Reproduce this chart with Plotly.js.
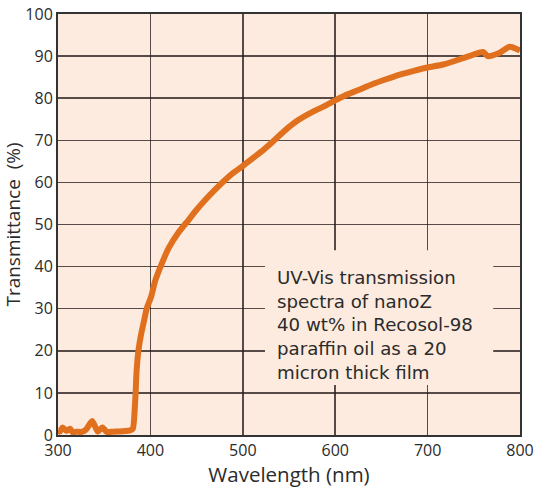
<!DOCTYPE html>
<html>
<head>
<meta charset="utf-8">
<script src="https://cdn.plot.ly/plotly-3.0.1.min.js"></script>
<style>html,body{margin:0;padding:0;background:#fff;}#chart{width:535px;height:488px;}</style>
</head>
<body>
<div id="chart"></div>
<script>
const wavelength = [300,302,305,309,313,316,320,325,330,337,343,348,353,360,370,378,381,383,384,385,387,390,393,396,401,405,411,420,430,441,450,460,470,482,490,500,510,520,533,547,560,576,590,600,610,626,640,655,670,685,700,717,730,745,760,765,778,789,800];
const transmittance = [1.2,0.8,1.8,1.0,1.5,0.6,0.8,0.7,1.2,3.3,0.8,1.8,0.7,0.8,0.9,1.1,1.5,6,10,15,20,24,27,30,33,36.5,40,44.5,48,51,53.5,56,58.3,60.8,62.3,63.9,65.6,67.3,69.8,72.6,74.8,76.8,78.3,79.5,80.6,82,83.3,84.5,85.6,86.5,87.3,88,88.9,90,91,90,90.8,92.2,91.3];
const xTicks = [300,400,500,600,700,800];
const yTicks = [0,10,20,30,40,50,60,70,80,90,100];
const noteLines = ["UV-Vis transmission", "spectra of nanoZ", "40 wt% in Recosol-98", "paraffin oil as a 20", "micron thick film"];
const noteLineY = [37.53, 31.83, 26.13, 20.43, 14.73];

const bg = 'rgb(252,235,222)';
const font = '"Open Sans", "DejaVu Sans", sans-serif';
const noteFont = '"DejaVu Sans", sans-serif';
const txt = '#2b2b2b';

const trace = {
  x: wavelength, y: transmittance, type: 'scatter', mode: 'lines',
  line: {color: 'rgb(224,111,30)', width: 6, shape: 'spline', smoothing: 0.6},
  hoverinfo: 'skip'
};

const layout = {
  width: 535, height: 488,
  margin: {l: 58, r: 15, t: 14, b: 53},
  paper_bgcolor: '#ffffff', plot_bgcolor: bg,
  showlegend: false,
  font: {family: font, color: txt},
  xaxis: {
    range: [300, 800], tickvals: xTicks, ticktext: xTicks.map(String),
    showgrid: true, gridcolor: 'rgba(40,30,30,0.78)', gridwidth: 1.5,
    zeroline: false, showline: true, linecolor: '#333', linewidth: 2, mirror: true,
    ticks: '', tickfont: {size: 16, color: txt, family: font},
    title: {text: 'Wavelength (nm)', font: {size: 20.5, color: txt, family: font}, standoff: 8}
  },
  yaxis: {
    range: [0, 100], tickvals: yTicks, ticktext: yTicks.map(String),
    showgrid: true, gridcolor: 'rgba(40,30,30,0.78)', gridwidth: 1.5,
    zeroline: false, showline: true, linecolor: '#333', linewidth: 2, mirror: true,
    ticks: '', tickfont: {size: 16, color: txt, family: font},
    title: {text: 'Transmittance  (%)', font: {size: 19, color: txt, family: font}, standoff: 7}
  },
  shapes: [{
    type: 'rect', xref: 'x', yref: 'y', x0: 524, x1: 771, y0: 11.9, y1: 43.9,
    fillcolor: bg, line: {width: 0}, layer: 'above'
  }],
  annotations: noteLines.map((t, i) => ({
    x: 535, y: noteLineY[i], xref: 'x', yref: 'y', xanchor: 'left', yanchor: 'middle',
    text: t, showarrow: false, align: 'left',
    font: {size: 18.2, color: txt, family: noteFont}
  }))
};

Plotly.newPlot('chart', [trace], layout, {displayModeBar: false, staticPlot: true});
</script>
</body>
</html>
